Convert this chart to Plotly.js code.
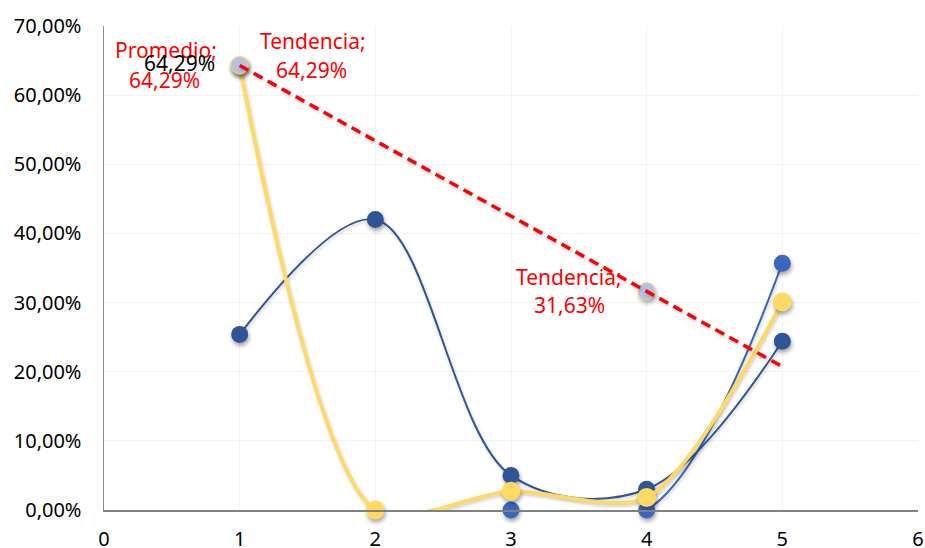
<!DOCTYPE html>
<html>
<head>
<meta charset="utf-8">
<script src="https://cdn.plot.ly/plotly-3.0.1.min.js"></script>
<style>
  html, body { margin: 0; padding: 0; background: #fff; }
  #chart { width: 925px; height: 548px; }
  .scatterlayer .trace .points path { filter: drop-shadow(1px 3px 2px rgba(0,0,0,0.35)); }
  .scatterlayer .trace .js-line { filter: drop-shadow(1px 2px 1.5px rgba(0,0,0,0.18)); }
</style>
</head>
<body>
<div id="chart"></div>
<script>
// x positions shared by all series
const xs = [1, 2, 3, 4, 5];

// series values (percent)
const serieOscura = [25.4, 42.0, 5.0, 3.0, 24.4];
const serieMedia  = [null, null, 0.0, 0.0, 35.7];
const serieAmarilla = [64.29, 0.0, 2.7, 1.8, 30.1];

// trend points and its labelled values
const tendenciaX = [1, 4, 5];
const tendenciaY = [64.29, 31.63, 20.74];
const puntosTendX = [1, 4];
const puntosTendY = [64.29, 31.63];
const promedio = 64.29;

const fmt = v => v.toFixed(2).replace('.', ',') + '%';
const pct = arr => arr.map(v => v === null ? null : v / 100);

const font = 'Noto Sans, Open Sans, sans-serif';

const traces = [
  {
    x: xs, y: pct(serieMedia), type: 'scatter', mode: 'lines+markers',
    line: { color: '#3A67BD', width: 2, shape: 'spline', smoothing: 1 },
    marker: { color: '#3A67BD', size: 17 },
    cliponaxis: false, connectgaps: false
  },
  {
    x: xs, y: pct(serieOscura), type: 'scatter', mode: 'lines+markers',
    line: { color: '#2F5597', width: 2, shape: 'spline', smoothing: 1 },
    marker: { color: '#2F5597', size: 17 },
    cliponaxis: false
  },
  {
    x: xs, y: pct(serieAmarilla), type: 'scatter', mode: 'lines+markers',
    line: { color: '#FFD966', width: 4, shape: 'spline', smoothing: 0.8 },
    marker: { color: '#FFD966', size: 19 },
    cliponaxis: false
  },
  {
    x: puntosTendX, y: pct(puntosTendY), type: 'scatter', mode: 'markers',
    marker: { color: '#B4C0E4', size: 17, line: { color: '#E8D48A', width: 1 } },
    cliponaxis: false
  },
  {
    x: tendenciaX, y: pct(tendenciaY), type: 'scatter', mode: 'lines',
    line: { color: '#FF0000', width: 3.5, dash: '10px,6px' },
    cliponaxis: false
  }
];

const red = { family: font, size: 21, color: '#FF0000' };
const black = { family: font, size: 21, color: '#000000' };
const ann = (x, y, text, f, dx, dy) => ({
  x: x, y: y / 100, xref: 'x', yref: 'y', text: text, showarrow: false,
  font: f, xshift: dx, yshift: dy, xanchor: 'center', yanchor: 'middle'
});

const annotations = [
  ann(puntosTendX[0], promedio, 'Promedio;', red, -74, 15),
  ann(puntosTendX[0], promedio, fmt(promedio), red, -75, -15),
  ann(puntosTendX[0], promedio, fmt(promedio), black, -60, 2),
  ann(puntosTendX[0], puntosTendY[0], 'Tendencia;', red, 73, 24),
  ann(puntosTendX[0], puntosTendY[0], fmt(puntosTendY[0]), red, 72, -5),
  ann(puntosTendX[1], puntosTendY[1], 'Tendencia;', red, -78, 14),
  ann(puntosTendX[1], puntosTendY[1], fmt(puntosTendY[1]), red, -77, -14)
];

const layout = {
  width: 925, height: 548,
  margin: { l: 104, r: 7, t: 26, b: 38 },
  paper_bgcolor: '#ffffff', plot_bgcolor: '#ffffff',
  separators: ',.',
  showlegend: false,
  font: { family: font, size: 20, color: '#000000' },
  xaxis: {
    range: [0, 6], dtick: 1, tick0: 0,
    showgrid: true, gridcolor: '#f3f3f3', gridwidth: 1,
    zeroline: false, showline: true, linecolor: '#808080', linewidth: 2,
    ticks: '', ticklabelstandoff: 10,
    tickfont: { family: font, size: 20, color: '#000' }
  },
  yaxis: {
    range: [0, 0.7], dtick: 0.1, tick0: 0, tickformat: '.2%',
    showgrid: true, gridcolor: '#f3f3f3', gridwidth: 1,
    zeroline: false, showline: true, linecolor: '#8c8c8c', linewidth: 1.5,
    ticks: '', ticklabelstandoff: 17,
    tickfont: { family: font, size: 20, color: '#000' }
  },
  annotations: annotations
};

Plotly.newPlot('chart', traces, layout, { displayModeBar: false, staticPlot: true });
</script>
</body>
</html>
